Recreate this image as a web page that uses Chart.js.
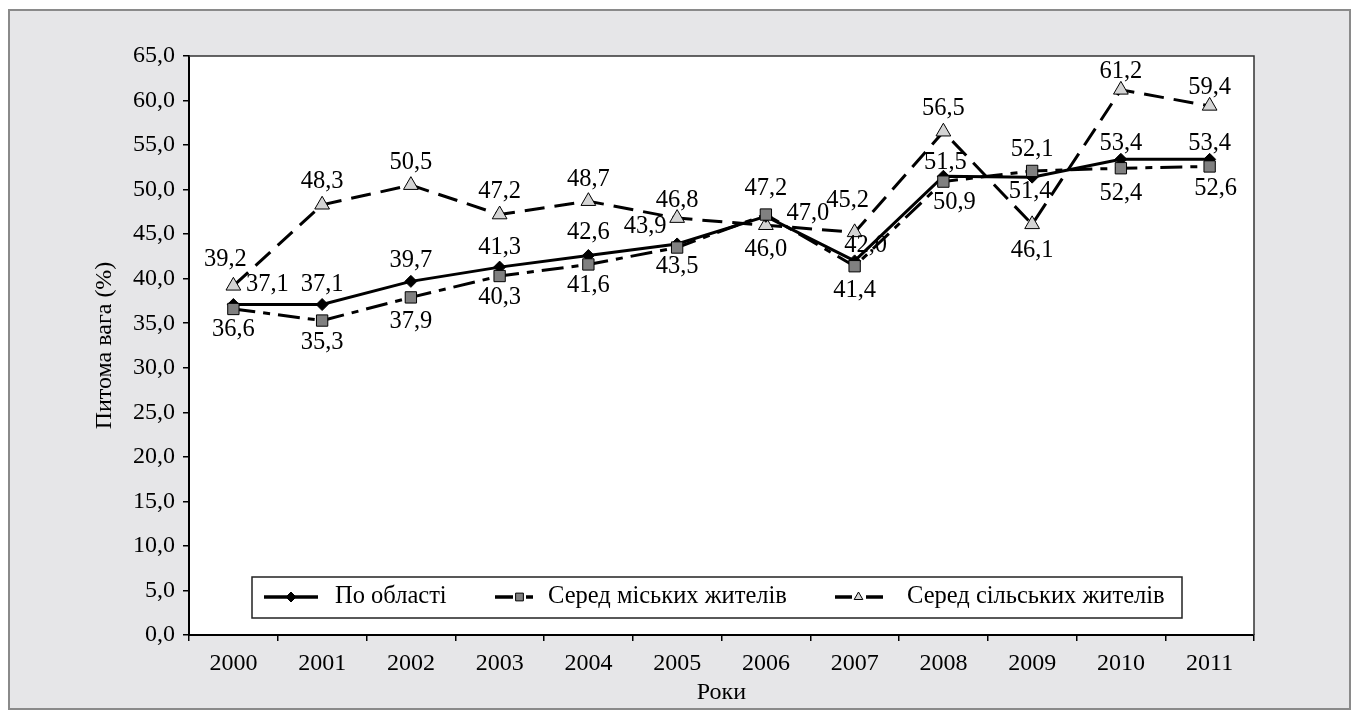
<!DOCTYPE html>
<html>
<head>
<meta charset="utf-8">
<title>Питома вага</title>
<script src="https://cdn.jsdelivr.net/npm/chart.js@4.4.0/dist/chart.umd.min.js"></script>
<style>
  html, body { margin: 0; padding: 0; background: #fff; }
  #wrap { width: 1360px; height: 719px; }
</style>
</head>
<body>
<div id="wrap"><canvas id="chart" width="1360" height="719"></canvas></div>
<script>
const years = ["2000", "2001", "2002", "2003", "2004", "2005", "2006", "2007", "2008", "2009", "2010", "2011"];

const regionValues = [37.1, 37.1, 39.7, 41.3, 42.6, 43.9, 47.0, 42.0, 51.5, 51.4, 53.4, 53.4];
const urbanValues = [36.6, 35.3, 37.9, 40.3, 41.6, 43.5, 47.2, 41.4, 50.9, 52.1, 52.4, 52.6];
const ruralValues = [39.2, 48.3, 50.5, 47.2, 48.7, 46.8, 46.0, 45.2, 56.5, 46.1, 61.2, 59.4];

const seriesNames = ["По області", "Серед міських жителів", "Серед сільських жителів"];

// where each value label sits relative to its point
const regionLabelPos = [[34, -20], [0, -20], [0, -21], [0, -20], [0, -23], [-32, -17], [42, -3], [11, -15], [2, -14], [-2, 14], [0, -16], [0, -16]];
const urbanLabelPos = [[0, 21], [0, 22], [0, 24], [0, 22], [0, 21], [0, 19], [0, -26], [0, 24], [11, 21], [0, -21], [0, 25], [6, 22]];
const ruralLabelPos = [[-8, -26], [0, -23], [0, -23], [0, -23], [0, -22], [0, -18], [0, 24], [-7, -32], [0, -23], [0, 26], [0, -18], [0, -18]];

const FONT = "'Liberation Serif', 'Times New Roman', serif";
const LABEL_FONT = "24.5px " + FONT;

Chart.defaults.font.family = FONT;
Chart.defaults.font.size = 24;
Chart.defaults.color = "#000";

function formatValue(v) {
  return Number(v).toFixed(1).replace(".", ",");
}

const framePlugin = {
  id: "frame",
  beforeDraw(chart) {
    const ctx = chart.ctx;
    const a = chart.chartArea;
    ctx.save();
    ctx.fillStyle = "#fff";
    ctx.fillRect(0, 0, chart.width, chart.height);
    ctx.fillStyle = "#e6e6e8";
    ctx.fillRect(9, 10, 1341, 699);
    ctx.strokeStyle = "#8a8a8a";
    ctx.lineWidth = 2;
    ctx.strokeRect(9, 10, 1341, 699);
    ctx.fillStyle = "#fff";
    ctx.fillRect(a.left, a.top, a.right - a.left, a.bottom - a.top);
    ctx.restore();
  },
  beforeDatasetsDraw(chart) {
    const ctx = chart.ctx;
    const a = chart.chartArea;
    ctx.save();
    ctx.strokeStyle = "#333";
    ctx.lineWidth = 1.5;
    ctx.beginPath();
    ctx.moveTo(a.left, a.top);
    ctx.lineTo(a.right, a.top);
    ctx.lineTo(a.right, a.bottom);
    ctx.stroke();
    ctx.restore();
  }
};

const labelPlugin = {
  id: "valueLabels",
  afterDatasetsDraw(chart) {
    const ctx = chart.ctx;
    ctx.save();
    ctx.font = LABEL_FONT;
    ctx.fillStyle = "#000";
    ctx.textAlign = "center";
    ctx.textBaseline = "middle";
    chart.data.datasets.forEach((ds, i) => {
      const meta = chart.getDatasetMeta(i);
      meta.data.forEach((pt, j) => {
        const off = ds.labelPos[j];
        ctx.fillText(formatValue(ds.data[j]), pt.x + off[0], pt.y + off[1]);
      });
    });
    ctx.restore();
  }
};

const legendPlugin = {
  id: "boxLegend",
  afterDatasetsDraw(chart) {
    const ctx = chart.ctx;
    ctx.save();
    ctx.fillStyle = "#fff";
    ctx.fillRect(252, 577, 930, 41);
    ctx.strokeStyle = "#222";
    ctx.lineWidth = 1.5;
    ctx.strokeRect(252, 577, 930, 41);

    const y = 597;
    const items = [
      { ds: 0, x1: 264, x2: 318, mx: 291, tx: 335 },
      { ds: 1, x1: 495, x2: 533, mx: 519.5, tx: 548 },
      { ds: 2, x1: 835, x2: 883, mx: 858.5, tx: 907 }
    ];
    items.forEach(it => {
      const ds = chart.data.datasets[it.ds];
      ctx.strokeStyle = "#000";
      ctx.lineWidth = 3.5;
      ctx.setLineDash(ds.legendDash);
      ctx.beginPath();
      ctx.moveTo(it.x1, y);
      ctx.lineTo(it.x2, y);
      ctx.stroke();
      ctx.setLineDash([]);
      ctx.fillStyle = ds.pointBackgroundColor;
      ctx.strokeStyle = "#000";
      ctx.lineWidth = 1;
      Chart.helpers.drawPoint(ctx, {
        pointStyle: ds.pointStyle,
        radius: ds.legendRadius,
        rotation: 0,
        borderWidth: 1
      }, it.mx, y);
      ctx.fillStyle = "#000";
      ctx.font = LABEL_FONT;
      ctx.textAlign = "left";
      ctx.textBaseline = "middle";
      ctx.fillText(seriesNames[it.ds], it.tx, y);
    });
    ctx.restore();
  }
};

new Chart(document.getElementById("chart"), {
  type: "line",
  data: {
    labels: years,
    datasets: [
      {
        label: seriesNames[0],
        data: regionValues,
        labelPos: regionLabelPos,
        order: 1,
        borderColor: "#000",
        borderWidth: 3,
        tension: 0,
        pointStyle: "rectRot",
        pointRadius: 6,
        pointBackgroundColor: "#000",
        pointBorderColor: "#000",
        pointBorderWidth: 1,
        legendDash: [],
        legendRadius: 5
      },
      {
        label: seriesNames[1],
        data: urbanValues,
        labelPos: urbanLabelPos,
        order: 0,
        borderColor: "#000",
        borderWidth: 3,
        borderDash: [22, 8, 7, 8],
        tension: 0,
        pointStyle: "rect",
        pointRadius: 8,
        pointBackgroundColor: "#808080",
        pointBorderColor: "#000",
        pointBorderWidth: 1,
        legendDash: [18, 13, 7],
        legendRadius: 5.5
      },
      {
        label: seriesNames[2],
        data: ruralValues,
        labelPos: ruralLabelPos,
        order: 2,
        borderColor: "#000",
        borderWidth: 3,
        borderDash: [20, 10],
        tension: 0,
        pointStyle: "triangle",
        pointRadius: 8.5,
        pointBackgroundColor: "#d4d4d4",
        pointBorderColor: "#000",
        pointBorderWidth: 1,
        legendDash: [17, 14, 17],
        legendRadius: 5
      }
    ]
  },
  options: {
    responsive: false,
    animation: false,
    layout: {
      padding: { top: 56, right: 106, left: 0, bottom: 0 }
    },
    plugins: {
      legend: { display: false },
      tooltip: { enabled: false }
    },
    scales: {
      x: {
        type: "category",
        offset: true,
        grid: {
          offset: true,
          drawOnChartArea: false,
          drawTicks: true,
          tickLength: 6,
          color: "#000",
          lineWidth: 1.5
        },
        border: { color: "#000", width: 2 },
        ticks: { padding: 8, maxRotation: 0, autoSkip: false },
        title: {
          display: true,
          text: "Роки",
          padding: { top: 0, bottom: 12 }
        },
        afterFit(scale) {
          scale.height = 84;
        }
      },
      y: {
        min: 0,
        max: 65,
        grid: {
          drawOnChartArea: false,
          drawTicks: true,
          tickLength: 6,
          color: "#000",
          lineWidth: 1.5
        },
        border: { color: "#000", width: 2 },
        ticks: {
          stepSize: 5,
          padding: 8,
          callback: v => formatValue(v)
        },
        title: {
          display: true,
          text: "Питома вага (%)",
          padding: { top: 90, bottom: 0 }
        },
        afterFit(scale) {
          scale.width = 189;
        }
      }
    }
  },
  plugins: [framePlugin, labelPlugin, legendPlugin]
});
</script>
</body>
</html>
